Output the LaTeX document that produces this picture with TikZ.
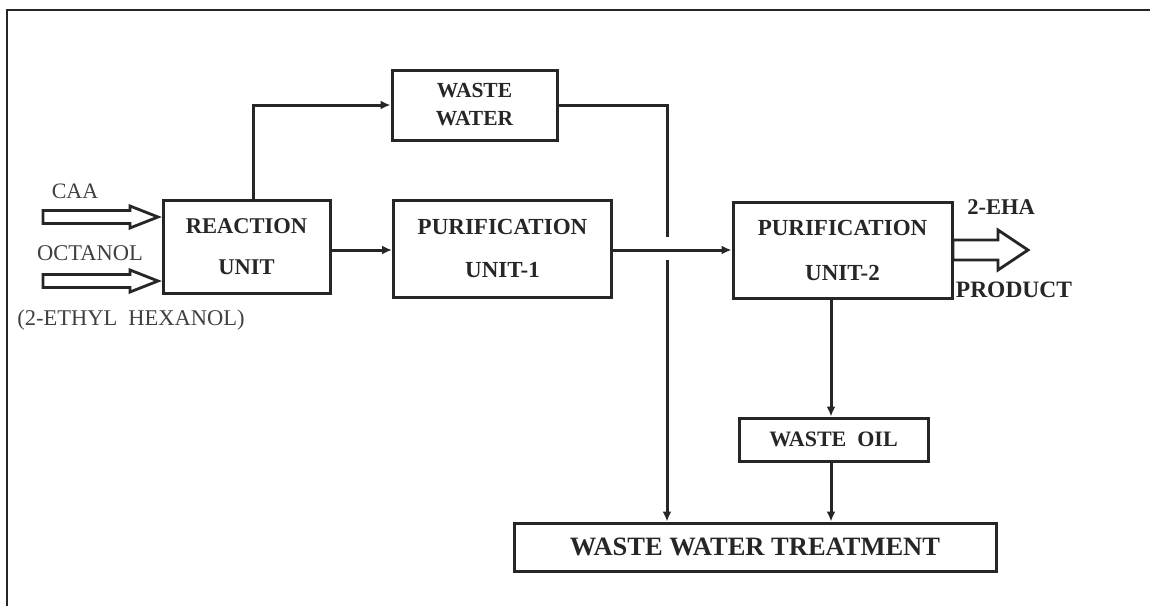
\documentclass[tikz,border=0pt]{standalone}
\usepackage{fontspec}
\setmainfont{Liberation Serif}
\usetikzlibrary{arrows.meta,calc}
\newcommand\hollowarrow[5]{% #1 tip, #2 total length, #3 head length, #4 shaft half width, #5 head half width
  \draw[fatarrow] (#1) -- ++(-#3,#5) -- ++(0,-#5+#4) -- ++(-#2+#3,0) -- ++(0,-2*#4) -- ++(#2-#3,0) -- ++(0,-#5+#4) -- cycle;}
\begin{document}
\begin{tikzpicture}[x=1pt,y=-1pt,
  ink/.style={draw=black!85,line width=3pt},
  unitbox/.style={ink,rectangle,inner sep=0pt,align=center,text=black!85,
     font=\bfseries\fontsize{22.5}{41}\selectfont},
  conn/.style={draw=black!85,line width=3pt,-{Latex[length=10pt,width=9pt]}},
  fatarrow/.style={draw=black!85,line width=2.8pt,fill=white,line join=miter},
  lbl/.style={inner sep=0pt,text=black!75,font=\fontsize{22.5}{26}\selectfont},
  blbl/.style={inner sep=0pt,text=black!85,font=\bfseries\fontsize{22.5}{26}\selectfont}]
\useasboundingbox (0,0) rectangle (1150,605);
\fill[white] (0,0) rectangle (1150,605);
\clip (0,0) rectangle (1150,605);
% frame
\draw[draw=black!85,line width=2.4pt] (7,620) -- (7,10) -- (1160,10);
% boxes
\node[unitbox,minimum width=167pt,minimum height=93pt] (react) at (246.5,246.5) {REACTION\\UNIT};
\node[unitbox,minimum width=165pt,minimum height=70pt,font=\bfseries\fontsize{21.5}{28}\selectfont] (ww) at (474.5,105) {WASTE\\WATER};
\node[unitbox,minimum width=218pt,minimum height=97pt,font=\bfseries\fontsize{23}{43}\selectfont] (p1) at (502.5,248.5) {PURIFICATION\\UNIT-1};
\node[unitbox,minimum width=219pt,minimum height=96pt,font=\bfseries\fontsize{23}{45}\selectfont] (p2) at (842.5,250) {PURIFICATION\\UNIT-2};
\node[unitbox,minimum width=189pt,minimum height=43pt,font=\bfseries\fontsize{22}{26}\selectfont] (wo) at (833.5,439.5) {WASTE\ \ OIL};
\node[unitbox,minimum width=482pt,minimum height=48pt,font=\bfseries\fontsize{26.5}{30}\selectfont] (wwt) at (755,547) {WASTE WATER TREATMENT};
% labels
\node[lbl,font=\fontsize{22}{26}\selectfont] (caa) at (75,191) {CAA};
\node[lbl] (oct) at (90,253) {OCTANOL};
\node[lbl] (eh) at (131,320) {(2-ETHYL\ \ HEXANOL)};
\node[blbl] (eha) at (1001,207) {2-EHA};
\node[blbl,font=\bfseries\fontsize{23.5}{26}\selectfont] (prod) at (1014,290) {PRODUCT};
% helper coordinates
\coordinate (jx) at (667,0);
\coordinate (kx) at (831,0);
\coordinate (rx) at (253,0);
\coordinate (caatip) at (158,217);
\coordinate (octtip) at (158,281);
\coordinate (prodtip) at (1028,250);
% connectors
\draw[conn] (rx |- react.north) |- (ww.west);
\draw[conn] (ww.east) -| (jx |- wwt.north);
\draw[conn] (react.east |- 0,250) -- (p1.west |- 0,250);
\fill[white] ($(jx |- p1.east)+(-4,-11.5)$) rectangle ($(jx |- p1.east)+(4,11.5)$);
\draw[conn] (p1.east |- 0,250) -- (p2.west |- 0,250);
\draw[conn] (kx |- p2.south) -- (kx |- wo.north);
\draw[conn] (kx |- wo.south) -- (kx |- wwt.north);
% hollow arrows
\hollowarrow{caatip}{115}{28}{6.5}{11}
\hollowarrow{octtip}{115}{28}{6.5}{11}
\hollowarrow{prodtip}{75}{30}{10}{20}
\end{tikzpicture}
\end{document}
